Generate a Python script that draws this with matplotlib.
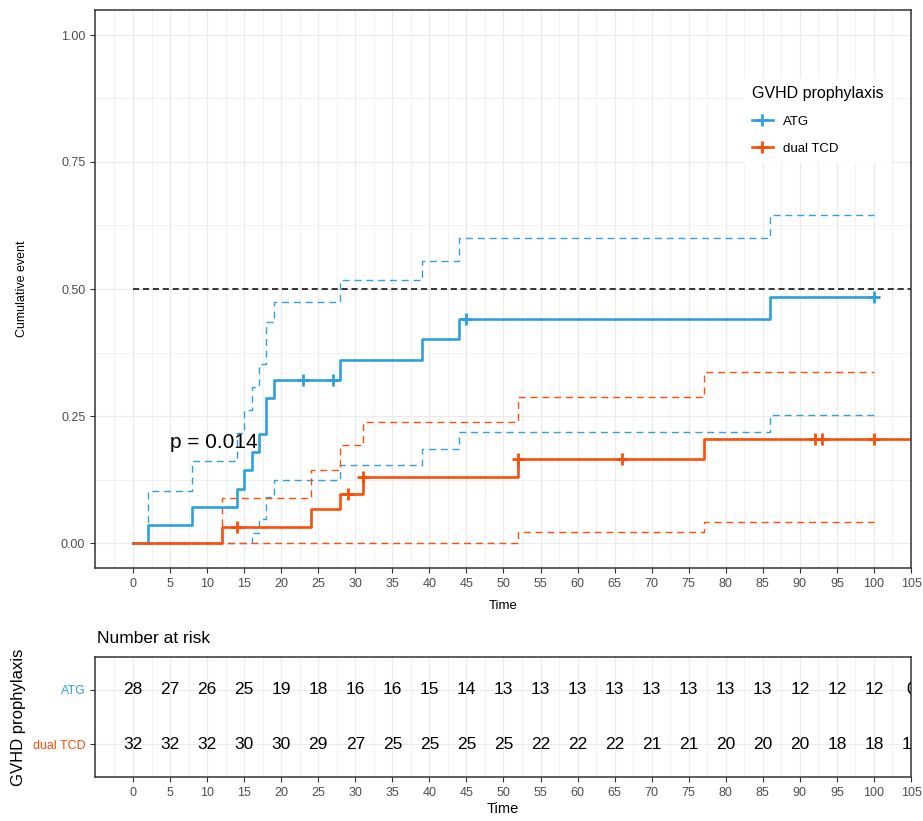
import matplotlib.pyplot as plt
from matplotlib.lines import Line2D
import numpy as np

plt.rcParams['font.family'] = ['Liberation Sans', 'DejaVu Sans']

# Curvas de incidência acumulada
atg_t = [0, 2, 8, 14, 15, 16, 17, 18, 19, 28, 39, 44, 86, 100]
atg_ci = [0, 0.036, 0.071, 0.107, 0.143, 0.179, 0.214, 0.286, 0.321, 0.361, 0.401, 0.441, 0.484, 0.484]
atg_up_t = [0, 2, 8, 14, 15, 16, 17, 18, 19, 28, 39, 44, 86, 100]
atg_up = [0, 0.102, 0.161, 0.216, 0.262, 0.308, 0.352, 0.436, 0.474, 0.518, 0.556, 0.600, 0.645, 0.645]
atg_lo_t = [0, 16, 17, 18, 19, 28, 39, 44, 86, 100]
atg_lo = [0, 0.020, 0.047, 0.090, 0.124, 0.154, 0.185, 0.218, 0.251, 0.251]
atg_cens_t = [23, 27, 45, 100]
atg_cens_y = [0.321, 0.321, 0.441, 0.484]

tcd_t = [0, 12, 24, 28, 31, 52, 77, 105]
tcd_ci = [0, 0.031, 0.066, 0.096, 0.129, 0.165, 0.205, 0.205]
tcd_up_t = [0, 12, 24, 28, 31, 52, 77, 100]
tcd_up = [0, 0.088, 0.144, 0.193, 0.239, 0.287, 0.337, 0.337]
tcd_lo_t = [0, 52, 77, 100]
tcd_lo = [0, 0.022, 0.042, 0.042]
tcd_cens_t = [14, 29, 31, 52, 66, 92, 93, 100]
tcd_cens_y = [0.031, 0.096, 0.129, 0.165, 0.165, 0.205, 0.205, 0.205]

# Número em risco
risk_times = list(range(0, 110, 5))
risk_atg = [28, 27, 26, 25, 19, 18, 16, 16, 15, 14, 13, 13, 13, 13, 13, 13, 13, 13, 12, 12, 12, 0]
risk_tcd = [32, 32, 32, 30, 30, 29, 27, 25, 25, 25, 25, 22, 22, 22, 21, 21, 20, 20, 20, 18, 18, 17]

groups = ["ATG", "dual TCD"]
cores = ["#2E9FDF", "#FC4E07"]
p_text = "p = 0.014"

W, H = 923, 821
fig = plt.figure(figsize=(W / 100, H / 100), dpi=100)

grid_c = "#EBEBEB"
border_c = "#333333"
tick_c = "#4D4D4D"
XLIM = (-5.13, 105)


def estilo(ax):
    for s in ax.spines.values():
        s.set_color(border_c)
        s.set_linewidth(1.1)
    ax.tick_params(colors=border_c, labelcolor=tick_c, labelsize=9, length=3.5, width=0.8)
    ax.tick_params(which="minor", length=0)
    ax.set_axisbelow(True)


### Painel principal ###
ax = fig.add_axes([95 / W, 1 - 568.4 / H, 816 / W, 558.8 / H])
ax.set_xticks(np.arange(0, 110, 5))
ax.set_xticks(np.arange(-2.5, 105, 5), minor=True)
ax.set_yticks([0, 0.25, 0.5, 0.75, 1.0])
ax.set_yticklabels(["0.00", "0.25", "0.50", "0.75", "1.00"])
ax.set_yticks([0.125, 0.375, 0.625, 0.875], minor=True)
ax.set_xlim(*XLIM)
ax.set_ylim(-0.05, 1.05)
ax.grid(which="major", color=grid_c, lw=0.9)
ax.grid(which="minor", color=grid_c, lw=0.5)
estilo(ax)

# intervalos de confiança
ax.step(atg_up_t, atg_up, where="post", color=cores[0], lw=1.0, dashes=(5, 3.5))
ax.step(atg_lo_t, atg_lo, where="post", color=cores[0], lw=1.0, dashes=(5, 3.5))
ax.step(tcd_up_t, tcd_up, where="post", color=cores[1], lw=1.0, dashes=(5, 3.5))
ax.step(tcd_lo_t, tcd_lo, where="post", color=cores[1], lw=1.0, dashes=(5, 3.5))

# linha de 50%
ax.plot([0, 105], [0.5, 0.5], color="black", lw=1.1, dashes=(4, 2.5))

ax.step(atg_t, atg_ci, where="post", color=cores[0], lw=1.9)
ax.step(tcd_t, tcd_ci, where="post", color=cores[1], lw=1.9)
ax.plot(atg_cens_t, atg_cens_y, ls="none", marker="+", ms=8, mew=2, color=cores[0])
ax.plot(tcd_cens_t, tcd_cens_y, ls="none", marker="+", ms=8, mew=2, color=cores[1])

ax.text(5, 0.197, p_text, fontsize=15, ha="left", va="center")

ax.set_xlabel("Time", fontsize=9.5, labelpad=7)
ax.set_ylabel("Cumulative event", fontsize=9, labelpad=24)

handles = [Line2D([], [], color=c, lw=1.9, marker="+", ms=8, mew=2) for c in cores]
leg = ax.legend(handles, groups, title="GVHD prophylaxis", loc="upper left",
                bbox_to_anchor=(0.787, 0.889), frameon=True, facecolor="white",
                edgecolor="none", framealpha=1, fancybox=False, fontsize=9.5,
                title_fontsize=11.5, handlelength=1.6, labelspacing=1.1,
                borderpad=0.6, alignment="left")

### Tabela de risco ###
rt = fig.add_axes([95 / W, 1 - 777 / H, 816 / W, 120 / H])
rt.set_xticks(np.arange(0, 110, 5))
rt.set_xticks(np.arange(-2.5, 105, 5), minor=True)
rt.set_yticks([2, 1])
rt.set_yticklabels(groups, fontsize=9)
rt.set_xlim(*XLIM)
rt.set_ylim(0.4, 2.6)
rt.grid(which="major", color=grid_c, lw=0.9)
rt.grid(which="minor", axis="x", color=grid_c, lw=0.5)
estilo(rt)
for lab, c in zip(rt.get_yticklabels(), cores):
    lab.set_color(c)

for t, n1, n2 in zip(risk_times, risk_atg, risk_tcd):
    rt.text(t, 2, str(n1), ha="center", va="center", fontsize=12.5, clip_on=True)
    rt.text(t, 1, str(n2), ha="center", va="center", fontsize=12.5, clip_on=True)

rt.set_xlabel("Time", fontsize=10.5, labelpad=2)
rt.set_ylabel("GVHD prophylaxis", fontsize=12, labelpad=5)
fig.text(97 / W, 1 - 638 / H, "Number at risk", fontsize=12.5, ha="left", va="center")

plt.savefig("out.png", dpi=100)
